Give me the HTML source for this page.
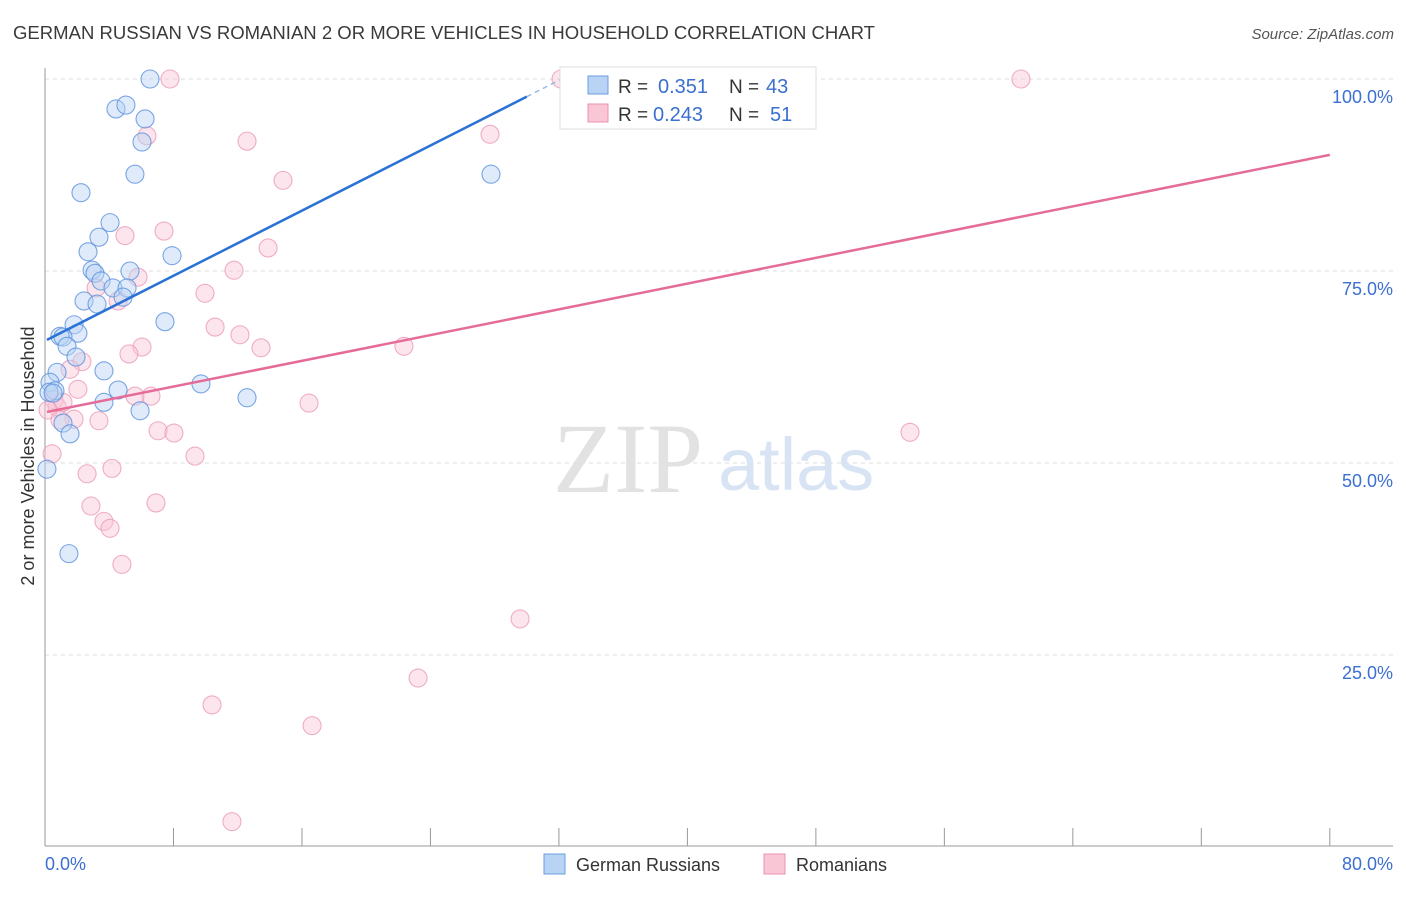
<!DOCTYPE html>
<html><head><meta charset="utf-8"><style>
body{margin:0;background:#fff;font-family:"Liberation Sans",sans-serif;}
</style></head><body>
<svg id="chart" width="1406" height="892" xmlns="http://www.w3.org/2000/svg" font-family="Liberation Sans, sans-serif">
<text x="13" y="39" font-size="18" fill="#3a3a3a" textLength="862" lengthAdjust="spacingAndGlyphs">GERMAN RUSSIAN VS ROMANIAN 2 OR MORE VEHICLES IN HOUSEHOLD CORRELATION CHART</text>
<text x="1394" y="39" font-size="15" fill="#555" text-anchor="end" font-style="italic">Source: ZipAtlas.com</text>
<g id="grid"></g>
<text x="553" y="492" font-size="100" fill="#e2e2e2" font-family="Liberation Serif, serif">ZIP</text>
<text x="718" y="490" font-size="74" fill="#d8e4f4">atlas</text>
<g id="marks"></g>
<text transform="translate(34,456) rotate(-90)" text-anchor="middle" font-size="18" fill="#333">2 or more Vehicles in Household</text>
<text x="45" y="870" font-size="18" fill="#3b6fd0">0.0%</text>
<text x="1393" y="870" font-size="18" fill="#3b6fd0" text-anchor="end">80.0%</text>
<g>
<rect x="560" y="67" width="256" height="62" fill="#fff" stroke="#ddd"/>
<rect x="588" y="76" width="20" height="18" fill="#b9d3f5" stroke="#6a9de0"/>
<rect x="588" y="104" width="20" height="18" fill="#f9c6d6" stroke="#e990ad"/>
<text x="618" y="93" font-size="19" fill="#333">R =</text>
<text x="658" y="93" font-size="20" fill="#3b6fd0">0.351</text>
<text x="729" y="93" font-size="19" fill="#333">N =</text>
<text x="766" y="93" font-size="20" fill="#3b6fd0">43</text>
<text x="618" y="121" font-size="19" fill="#333">R =</text>
<text x="653" y="121" font-size="20" fill="#3b6fd0">0.243</text>
<text x="729" y="121" font-size="19" fill="#333">N =</text>
<text x="770" y="121" font-size="20" fill="#3b6fd0">51</text>
</g>
<g>
<rect x="544" y="854" width="21" height="20" fill="#b9d3f5" stroke="#6a9de0"/>
<text x="576" y="871" font-size="18" fill="#333">German Russians</text>
<rect x="764" y="854" width="21" height="20" fill="#f9c6d6" stroke="#e990ad"/>
<text x="796" y="871" font-size="18" fill="#333">Romanians</text>
</g>
</svg>
<script>
const blueX=[6.54,4.42,5.04,6.23,6.04,5.60,2.24,4.05,3.36,2.68,7.91,2.93,3.11,5.29,3.49,4.23,5.11,4.86,2.43,3.24,7.47,1.81,2.05,0.93,1.12,1.37,1.93,3.67,0.75,9.71,4.55,0.31,0.62,0.25,0.50,3.67,12.58,5.92,1.12,1.56,0.12,1.49,27.77];
const blueY=[100,96.1,96.6,94.8,91.8,87.6,85.2,81.3,79.4,77.5,77.0,75.1,74.7,75.0,73.7,72.8,72.8,71.6,71.1,70.7,68.4,68.0,66.9,66.5,66.4,65.2,63.8,62.0,61.8,60.3,59.5,60.5,59.4,59.2,59.1,57.9,58.5,56.8,55.2,53.8,49.2,38.2,87.6];
const pinkX=[7.78,32.13,60.77,6.35,12.58,14.82,27.71,7.41,4.98,13.89,11.77,5.79,3.18,4.55,9.96,10.59,12.14,6.04,13.45,22.35,5.23,2.30,1.56,2.05,6.60,5.60,0.56,0.75,1.12,0.19,1.81,3.36,7.04,8.03,53.86,9.34,0.44,4.17,2.62,16.44,6.91,2.86,3.67,4.05,4.79,29.58,23.23,10.40,16.63,11.64,0.93];
const pinkY=[100,100,100,92.6,91.9,86.8,92.8,80.2,79.6,78.0,75.1,74.2,72.8,71.1,72.1,67.7,66.7,65.1,65.0,65.2,64.2,63.2,62.2,59.6,58.7,58.7,58.2,57.3,57.9,56.9,55.7,55.5,54.2,53.9,54.0,50.9,51.2,49.3,48.6,57.8,44.8,44.4,42.4,41.5,36.8,29.7,22.0,18.5,15.8,3.3,55.6];
const yTicks=[25,50,75,100];
const yTickLabels=["25.0%","50.0%","75.0%","100.0%"];
const xTicks=[0,8,16,24,32,40,48,56,64,72,80];
const blueTrend=[65.9,1.06];
const pinkTrend=[56.6,0.419];
const NS="http://www.w3.org/2000/svg";
const sx=v=>45+v*16.06, sy=v=>847-v*7.68;
function mk(t,a,p){const e=document.createElementNS(NS,t);for(const k in a)e.setAttribute(k,a[k]);p.appendChild(e);return e;}
const grid=document.getElementById('grid'),marks=document.getElementById('marks');
yTicks.forEach((t,i)=>{
 const l=mk('line',{x1:45,x2:1393,y1:sy(t),y2:sy(t),stroke:'#ddd','stroke-dasharray':'4,4'},grid);
 
 
 const tx=mk('text',{x:1393,y:sy(t)+24,'font-size':18,fill:'#3b6fd0','text-anchor':'end'},grid);
 tx.textContent=yTickLabels[i];
 
 
});
const ax=mk('line',{x1:45,x2:45,y1:68,y2:846,stroke:'#999'},grid);


const bx=mk('line',{x1:45,x2:1393,y1:846,y2:846,stroke:'#999'},grid);


xTicks.forEach(t=>{
 const l=mk('line',{x1:sx(t),x2:sx(t),y1:828,y2:846,stroke:'#999'},grid);
 
 
});
function pts(X,Y,fill,stroke,name){X.forEach((x,i)=>{
 const c=mk('circle',{cx:sx(x),cy:sy(Y[i]),r:9,fill:fill,'fill-opacity':0.45,stroke:stroke,'stroke-opacity':0.8,'stroke-width':1.1},marks);
 
 
});}
pts(pinkX,pinkY,'#f9c6d6','#eb9bb6','romanian-point');
pts(blueX,blueY,'#b9d3f5','#5b91dd','german-russian-point');
let b=mk('line',{x1:sx(0.12),y1:sy(blueTrend[0]+blueTrend[1]*0.12),x2:sx(30),y2:sy(blueTrend[0]+blueTrend[1]*30),stroke:'#2a72d6','stroke-width':2.5},marks);


let bd=mk('line',{x1:sx(30),y1:sy(blueTrend[0]+blueTrend[1]*30),x2:sx(32.2),y2:sy(blueTrend[0]+blueTrend[1]*32.2),stroke:'#9bbbe8','stroke-width':1.5,'stroke-dasharray':'5,4'},marks);


let p=mk('line',{x1:sx(0.12),y1:sy(pinkTrend[0]+pinkTrend[1]*0.12),x2:sx(80),y2:sy(pinkTrend[0]+pinkTrend[1]*80),stroke:'#e56b98','stroke-width':2.5},marks);


</script>
</body></html>
